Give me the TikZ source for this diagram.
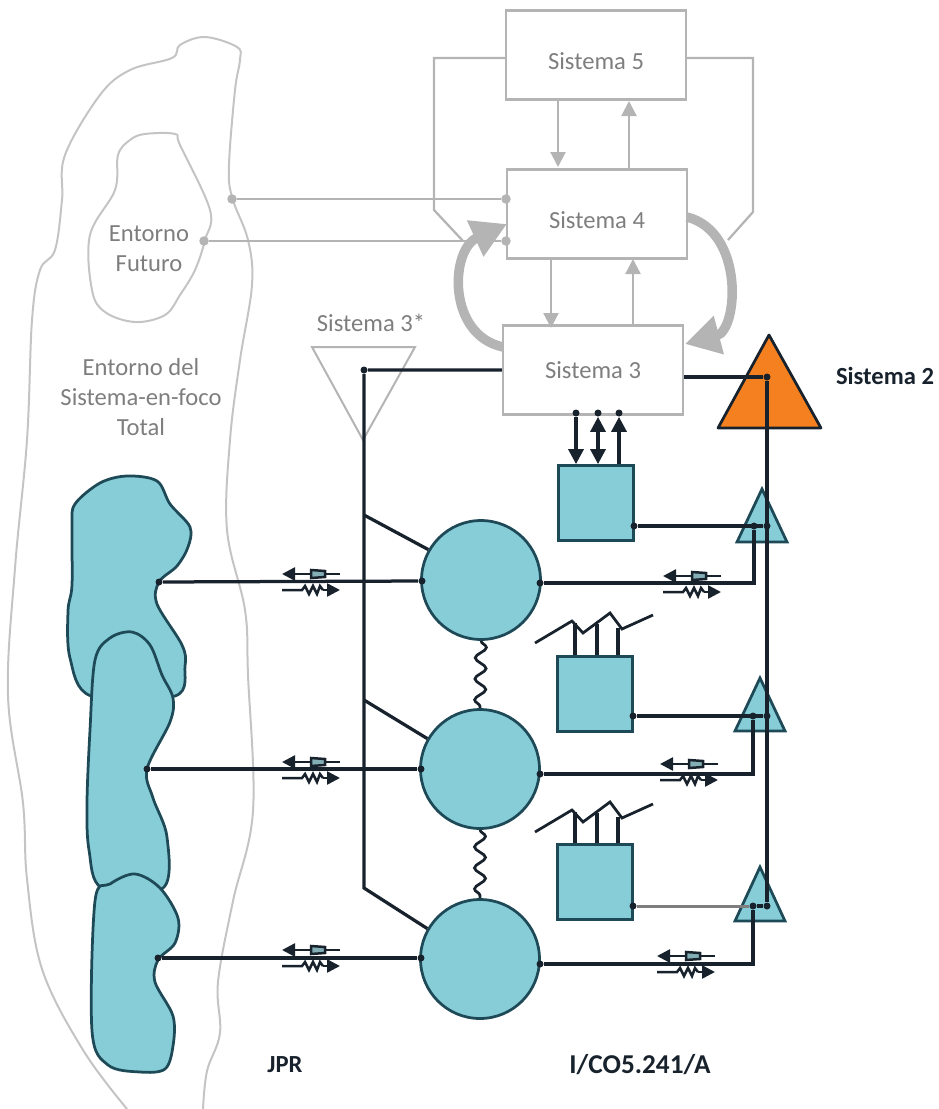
\documentclass[tikz,border=0pt]{standalone}
\usepackage{fontspec}
\setmainfont{Carlito}
\usepackage{xcolor}
\usetikzlibrary{arrows.meta,decorations.pathmorphing}
\definecolor{sysgray}{HTML}{B4B4B4}
\definecolor{txtgray}{HTML}{7E7E7E}
\definecolor{ink}{HTML}{18222D}
\definecolor{outl}{HTML}{1E4A58}
\definecolor{teal}{HTML}{87CDD8}
\definecolor{envgray}{HTML}{C4C4C4}
\definecolor{orng}{HTML}{F4801F}

\newcommand{\channel}[2]{%
    \draw[tiny,-{Triangle[length=2.6mm,width=2.6mm]}] (#1+29,#2-8) -- (#1-29,#2-8);
    \draw[tiny,fill=teal!60!gray] (#1,#2-12) -- (#1+14,#2-11) -- (#1+14,#2-5) -- (#1,#2-4) -- cycle;
    \draw[tiny] (#1-29,#2+8) -- (#1-9,#2+8) -- (#1-6,#2+4) -- (#1-2,#2+12) -- (#1+2,#2+4) -- (#1+6,#2+12) -- (#1+9,#2+4) -- (#1+12,#2+8);
    \draw[tiny,-{Triangle[length=2.6mm,width=2.6mm]}] (#1+12,#2+8) -- (#1+29,#2+8);
}

\begin{document}
\begin{tikzpicture}[
    x=0.02cm,y=-0.02cm,
    box/.style={draw=sysgray, line width=.45mm, minimum width=3.6cm, minimum height=1.78cm, inner sep=0pt, text=txtgray, font=\fontsize{14}{16}\selectfont},
    lowtext/.style={text height=16.5pt},
    unit/.style={draw=outl, fill=teal, line width=.55mm, minimum size=1.5cm, inner sep=0pt},
    op/.style={circle, draw=outl, fill=teal, line width=.55mm, minimum size=2.38cm, inner sep=0pt},
    dot/.style={circle, fill=ink, inner sep=0pt, minimum size=1.4mm},
    gdot/.style={circle, fill=sysgray, inner sep=0pt, minimum size=1.9mm},
    label/.style={text=txtgray, font=\fontsize{14}{17}\selectfont, align=center},
    blabel/.style={text=ink, font=\bfseries\fontsize{14}{16}\selectfont},
    gedge/.style={draw=sysgray, line width=.45mm},
    garrow/.style={gedge, -{Triangle[length=3mm,width=3mm]}},
    bigloop/.style={draw=sysgray, line width=1.9mm, -{Triangle[length=7mm,width=7.5mm]}},
    edge/.style={draw=ink, line width=.65mm},
    tiny/.style={draw=ink, line width=.5mm},
    barrow/.style={edge, -{Triangle[length=3mm,width=3mm]}},
    dbarrow/.style={edge, {Triangle[length=3mm,width=3mm]}-{Triangle[length=3mm,width=3mm]}},
    blob/.style={draw=outl, fill=teal, line width=.55mm},
    env/.style={draw=envgray, line width=.4mm},
    wave/.style={edge, line width=.55mm, decorate, decoration={snake, amplitude=1.1mm, segment length=4.2mm}}
]
    \useasboundingbox (0,0) rectangle (938,1109);

    % entorno
    \draw[env] plot[smooth, tension=.6] coordinates {(127,1109) (83,1050) (42,969) (27,879) (23,803) (8,696) (15,568) (27,440) (32,320) (40,270) (55,250) (62,200) (65,155) (100,95) (130,70) (172,58) (180,45) (205,37) (237,47) (240,60) (235,90) (229,165) (232,197) (248,240) (252,285) (240,360) (230,440) (227,530) (245,610) (248,675) (253,811) (233,901) (218,982) (220,1033) (207,1071) (203,1109)};
    \draw[env] plot[smooth cycle, tension=.6] coordinates {(145,134) (175,134) (180,145) (210,210) (205,240) (195,270) (180,295) (165,315) (135,322) (105,312) (92,290) (90,235) (115,190) (118,155) (130,140)};
    \node[label] (futuro) at (149,249) {Entorno\\Futuro};
    \node[label] (total) at (141,397) {Entorno del\\Sistema-en-foco\\Total};

    % sistemas 5, 4, 3
    \node[box,lowtext] (s5) at (596,55) {Sistema 5};
    \node[box,lowtext] (s4) at (597,214) {Sistema 4};
    \node[box] (s3) at (593,370) {Sistema 3};

    \coordinate (ll) at (463,241);
    \coordinate (rr) at (728,240);
    \draw[gedge] (s5.west |- 0,58) -- (434,58) -- (434,210) -- (ll);
    \draw[gedge] (s5.east |- 0,58) -- (753,58) -- (753,212) -- (rr);

    \draw[garrow] (558,100) -- (558,167);
    \draw[garrow] (629,169) -- (629,101);
    \draw[garrow] (551,258) -- (551,328);
    \draw[garrow] (633,324) -- (633,259);

    \coordinate (s3a) at (503,347);
    \coordinate (s4a) at (507,224);
    \coordinate (s4b) at (687,217);
    \coordinate (s3b) at (685,344);
    \draw[bigloop] (s3a) .. controls (447,335) and (450,250) .. (s4a);
    \draw[bigloop] (s4b) .. controls (745,232) and (738,330) .. (s3b);

    % enlaces del entorno
    \node[gdot] (e1) at (232,199) {};
    \node[gdot] (e2) at (204,241) {};
    \node[gdot] (e3) at (506,199) {};
    \node[gdot] (e4) at (506,241) {};
    \draw[gedge] (e1)--(e3);
    \draw[gedge] (e2)--(e4);

    % sistema 3*
    \coordinate (t3a) at (312,347);
    \coordinate (t3b) at (415,347);
    \coordinate (t3c) at (363,440);
    \draw[draw=sysgray, line width=.4mm] (t3a)--(t3b)--(t3c)--cycle;
    \node[label] (s3star) at (371,323) {Sistema 3*};
    \node[dot] (n3) at (364,370) {};
    \coordinate (n4) at (364,888);
    \coordinate (b1) at (364,515);
    \coordinate (b2) at (364,700);

    % sistema 2
    \coordinate (t2a) at (769,335);
    \coordinate (t2b) at (718,428);
    \coordinate (t2c) at (821,428);
    \draw[draw=ink, fill=orng, line width=.55mm, line join=round] (t2a)--(t2b)--(t2c)--cycle;
    \node[blabel] (s2) at (885,376) {Sistema 2};
    \node[dot] (n2) at (767,377) {};

    % triangulos pequenos
    \draw[draw=outl, fill=teal, line width=.55mm] (762,489)--(737,542)--(787,542)--cycle;
    \draw[draw=outl, fill=teal, line width=.55mm] (760,678)--(735,731)--(785,731)--cycle;
    \draw[draw=outl, fill=teal, line width=.55mm] (760,867)--(735,921)--(785,921)--cycle;
    \node[dot] (d1) at (754,526) {};
    \node[dot] (d2) at (767,526) {};
    \node[dot] (d3) at (753,716) {};
    \node[dot] (d4) at (767,716) {};
    \node[dot] (d5) at (753,906) {};
    \node[dot] (d6) at (767,906) {};

    % operaciones
    \node[op] (c1) at (481,580) {};
    \node[op] (c2) at (480,769) {};
    \node[op] (c3) at (480,959) {};
    \draw[wave] (c1.south) -- (c2.north);
    \draw[wave] (c2.south) -- (c3.north);

    % gestion
    \node[unit] (m1) at (596,503) {};
    \node[unit] (m2) at (595,694) {};
    \node[unit] (m3) at (595,882) {};

    % nodos
    \node[dot] (o1) at (422,581) {};
    \node[dot] (o2) at (421,769) {};
    \node[dot] (o3) at (421,958) {};
    \node[dot] (r1) at (540,583) {};
    \node[dot] (r2) at (540,774) {};
    \node[dot] (r3) at (540,964) {};
    \node[dot] (g1) at (634,526) {};
    \node[dot] (g2) at (633,716) {};
    \node[dot] (g3) at (633,906) {};
    \coordinate (k1) at (754,583);
    \coordinate (k2) at (753,774);
    \coordinate (k3) at (753,964);

    % blobs
    \draw[blob] plot[smooth cycle, tension=.55] coordinates {(75,504) (100,483) (127,476) (157,481) (170,504) (190,527) (188,547) (177,566) (159,582) (157,604) (182,645) (185,666) (175,696) (91,696) (70,658) (68,611) (72,585) (72,525)};
    \draw[blob] plot[smooth cycle, tension=.55] coordinates {(132,632) (150,645) (162,675) (173,698) (170,722) (147,769) (153,798) (167,837) (163,888) (102,888) (89,850) (87,803) (90,730) (95,660) (110,638)};
    \draw[blob] plot[smooth cycle, tension=.55] coordinates {(135,874) (160,888) (178,918) (175,943) (158,960) (155,982) (173,1016) (173,1046) (165,1069) (140,1072) (108,1065) (92,1031) (95,901) (110,884)};
    \node[dot] (a1) at (159,582) {};
    \node[dot] (a2) at (147,769) {};
    \node[dot] (a3) at (158,958) {};

    % conexiones
    \draw[edge] (s3.west |- n3)--(n3)--(n4)--(c3.150);
    \draw[edge] (b1)--(c1.150);
    \draw[edge] (b2)--(c2.150);
    \draw[edge] (s3.east |- n2)--(n2);
    \draw[edge] (n2)--(d6);
    \draw[edge] (a1)--(o1);
    \draw[edge] (a2)--(o2);
    \draw[edge] (a3)--(o3);
    \draw[edge] (r1)--(k1)--(d1);
    \draw[edge] (r2)--(k2)--(d3);
    \draw[edge] (r3)--(k3)--(d5);
    \draw[edge] (g1)--(d2);
    \draw[edge] (g2)--(d4);
    \draw[draw=txtgray, line width=.6mm] (g3)--(d5);
    \draw[edge] (d5)--(d6);

    % entradas de sistema 3
    \node[dot] (u1) at (576,413) {};
    \node[dot] (u2) at (598,413) {};
    \node[dot] (u3) at (619,413) {};
    \draw[barrow] (u1)--(m1.north -| u1);
    \draw[dbarrow] (u2)--(m1.north -| u2);
    \draw[barrow] (m1.north -| u3)--(u3);

    % quebradas
    \draw[edge, line width=.55mm] (535,643)--(572,621)--(583,633)--(610,613)--(622,629)--(653,615);
    \draw[edge] (m2.north -| 575,0)--(575,623);
    \draw[edge] (m2.north -| 597,0)--(597,624);
    \draw[edge] (m2.north -| 618,0)--(618,628);
    \draw[edge, line width=.55mm] (535,832)--(572,810)--(583,822)--(610,802)--(622,818)--(653,804);
    \draw[edge] (m3.north -| 575,0)--(575,812);
    \draw[edge] (m3.north -| 597,0)--(597,813);
    \draw[edge] (m3.north -| 618,0)--(618,817);

    % canales
    \channel{311}{582}
    \channel{311}{770}
    \channel{311}{958}
    \channel{692}{584}
    \channel{689}{772}
    \channel{686}{964}

    \node[blabel] (jpr) at (285,1065) {JPR};
    \node[blabel, font=\bfseries\fontsize{15.5}{17}\selectfont] (ref) at (640,1065) {I/CO5.241/A};
\end{tikzpicture}
\end{document}
